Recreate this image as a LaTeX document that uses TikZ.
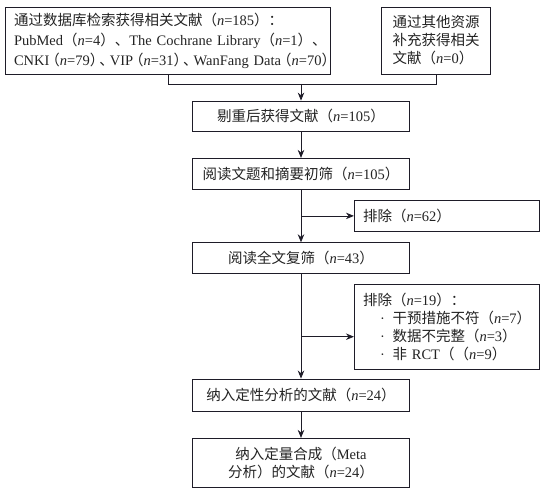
\documentclass[tikz,border=0pt]{standalone}
\usepackage{fontspec}
\setmainfont{Liberation Serif}
\newfontfamily\cjk{Noto Sans CJK SC}
\usetikzlibrary{arrows.meta,calc}
\newcommand\zh[1]{{\cjk #1}}
\newcommand\nv{\textit{n}}
\newcommand\hlp{\makebox[10.5pt][r]{\zh{（}}}
\newcommand\hrp{\makebox[9.5pt][l]{\zh{）}}}
\newcommand\hdn{\makebox[10.5pt][l]{\zh{、}}}
\definecolor{linecol}{RGB}{30,28,40}
\definecolor{textcol}{RGB}{35,35,35}
\begin{document}
\begin{tikzpicture}[x=1pt,y=-1pt,
  box/.style={draw=linecol, line width=0.8pt, inner sep=0pt, text=textcol,
    font=\fontsize{14.5}{18}\selectfont},
  mainbox/.style={box, minimum width=217pt, align=center},
  exbox/.style={box, inner xsep=8.7pt, text width=167.3pt, align=left},
  ln/.style={draw=linecol, line width=0.8pt},
  arr/.style={ln, -{Stealth[length=8pt,width=6.5pt]}}]
\useasboundingbox (0,0) rectangle (545,492);

\node[box, inner xsep=8.3pt, text width=308.4pt, minimum height=67pt, align=left,
  font=\fontsize{14.5}{20}\selectfont] (s1) at (168.2,40.5)
  {\mbox{\zh{通过数据库检索获得相关文献（}\nv=185\zh{）：}}\\
   \mbox{PubMed\zh{（}\nv=4\zh{）、}The Cochrane Library\zh{（}\nv=1\zh{）、}}\\
   \mbox{CNKI\hlp\nv=79\hrp\hdn VIP\hlp\nv=31\hrp\hdn WanFang Data\hlp\nv=70\hrp}};
\node[box, minimum width=109pt, minimum height=67pt, align=left] (s2) at (436.2,40.5)
  {\zh{通过其他资源}\\\zh{补充获得相关}\\\zh{文献（}\nv=0\zh{）}};

\node[mainbox, minimum height=30.6pt] (b1) at (301,116.3)
  {\zh{剔重后获得文献（}\nv=105\zh{）}};
\node[mainbox, minimum height=31pt] (b2) at (301,173.8)
  {\zh{阅读文题和摘要初筛（}\nv=105\zh{）}};
\node[mainbox, minimum height=30.6pt] (b3) at (301,258)
  {\zh{阅读全文复筛（}\nv=43\zh{）}};
\node[mainbox, minimum height=32.7pt] (b4) at (301,395.3)
  {\zh{纳入定性分析的文献（}\nv=24\zh{）}};
\node[mainbox, minimum height=49pt] (b5) at (301,462.8)
  {\zh{纳入定量合成（}Meta\\\zh{分析）的文献（}\nv=24\zh{）}};

\node[exbox, minimum height=31.7pt] (e1) at (446.7,215.9)
  {\zh{排除（}\nv=62\zh{）}};
\node[exbox, minimum height=85pt] (e2) at (446.7,326.8)
  {\zh{排除（}\nv=19\zh{）：}\\
   \hspace*{17pt}\makebox[12.5pt][l]{·}\zh{干预措施不符（}\nv=7\zh{）}\\
   \hspace*{17pt}\makebox[12.5pt][l]{·}\zh{数据不完整（}\nv=3\zh{）}\\
   \hspace*{17pt}\makebox[12.5pt][l]{·}\zh{非} RCT\zh{（（}\nv=9\zh{）}};

\coordinate (jn) at (301,84);
\coordinate (j2) at (301,336.7);

\draw[ln] (s1.south) -- (s1.south |- jn) -- (s2.south |- jn) -- (s2.south);
\draw[arr] (jn) -- (b1.north);
\draw[arr] (b1.south) -- (b2.north);
\draw[arr] (b2.south) -- (b3.north);
\draw[arr] (b2.south |- e1.west) -- (e1.west);
\draw[arr] (b3.south) -- (b4.north);
\draw[arr] (b3.south |- j2) -- (e2.west |- j2);
\draw[arr] (b4.south) -- (b5.north);
\end{tikzpicture}
\end{document}
